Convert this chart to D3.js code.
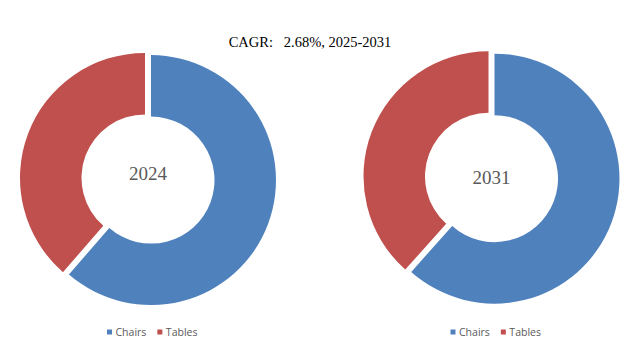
<!DOCTYPE html>
<html><head><meta charset="utf-8">
<script src="https://cdn.jsdelivr.net/npm/d3@7"></script>
<style>html,body{margin:0;padding:0;background:#fff;}svg{display:block;}</style>
</head><body>
<svg id="chart" width="640" height="353"></svg>
<script>
const categories = ["Chairs", "Tables"];
const years = ["2024", "2031"];
const values2024 = [61.4, 38.6];
const values2031 = [61.6, 38.4];
const colors = ["#4F81BD", "#C0504D"];
const title = "CAGR:   2.68%, 2025-2031";

const svg = d3.select("#chart");
const color = d3.scaleOrdinal().domain(categories).range(colors);
const pie = d3.pie().sort(null).value(d => d.v);
const arc = d3.arc().innerRadius(63.5).outerRadius(125);
const explode = 3.2;

svg.append("text").attr("x", 310).attr("y", 47).attr("text-anchor", "middle")
  .attr("font-family", "'Palatino Linotype','Book Antiqua',Palatino,'Liberation Serif',serif")
  .attr("font-size", 14.5).attr("fill", "#000").style("white-space", "pre").text(title);

const donuts = [
  {year: years[0], vals: values2024, cx: 148, cy: 179, ty: 1, lx: 107},
  {year: years[1], vals: values2031, cx: 491.5, cy: 177.5, ty: 6, lx: 450.5}
];

donuts.forEach(dn => {
  const g = svg.append("g").attr("transform", `translate(${dn.cx},${dn.cy})`);
  const data = pie(categories.map((c, i) => ({c, v: dn.vals[i]})));
  g.selectAll("path").data(data).enter().append("path")
    .attr("d", arc)
    .attr("fill", d => color(d.data.c))
    .attr("transform", d => {
      const a = (d.startAngle + d.endAngle) / 2;
      return `translate(${Math.sin(a) * explode},${-Math.cos(a) * explode})`;
    });
  g.append("text").attr("x", 0).attr("y", dn.ty).attr("text-anchor", "middle")
    .attr("font-family", "'Palatino Linotype','Book Antiqua',Palatino,'Liberation Serif',serif")
    .attr("font-size", 19).attr("fill", "#595959").text(dn.year);

  const lg = svg.append("g").attr("transform", `translate(${dn.lx},335.5)`);
  let x = 0;
  categories.forEach((c, i) => {
    lg.append("rect").attr("x", x).attr("y", -6).attr("width", 5).attr("height", 5).attr("fill", color(c));
    const t = lg.append("text").attr("x", x + 8.5).attr("y", 0)
      .attr("font-family", "'Open Sans','Liberation Sans',sans-serif").attr("font-size", 10.5)
      .attr("fill", "#595959").text(c);
    x += 8.5 + t.node().getComputedTextLength() + 11;
  });
});
</script>
</body></html>
